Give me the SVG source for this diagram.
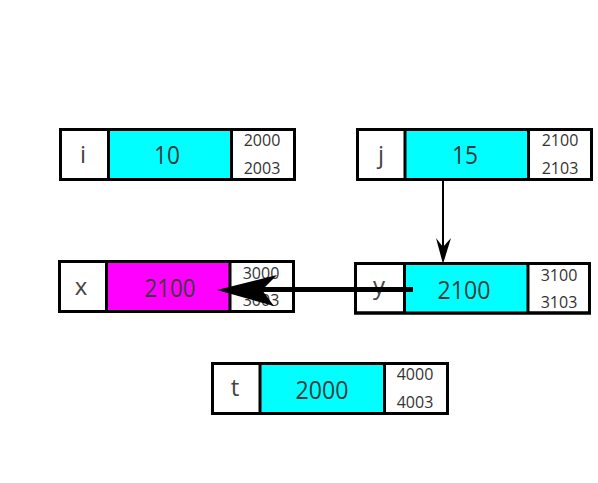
<svg xmlns="http://www.w3.org/2000/svg" width="598" height="483" viewBox="0 0 598 483">
<style>
.box{fill:#fff;stroke:#000;stroke-width:3}
.div{stroke:#000;stroke-width:3}
.cyan{fill:#00ffff}
.mag{fill:#ff00ff}
.lbl{font-family:"Open Sans","Noto Sans",sans-serif;font-size:24px;fill:#444;text-anchor:middle}
.val{font-family:"Open Sans","Noto Sans",sans-serif;font-size:26px;fill:#3a3a3a;text-anchor:middle}
.adr{font-family:"Open Sans","Noto Sans",sans-serif;font-size:16px;fill:#333;text-anchor:middle}
</style>
<rect width="598" height="483" fill="#fff"/>
<g id="node-i">
<rect class="box" x="60.5" y="129.5" width="234" height="50"/>
<rect class="cyan" x="108.5" y="129.5" width="123" height="50"/>
<line class="div" x1="108.5" y1="129.5" x2="108.5" y2="179.5"/>
<line class="div" x1="231.5" y1="129.5" x2="231.5" y2="179.5"/>
<rect x="60.5" y="129.5" width="234" height="50" fill="none" stroke="#000" stroke-width="3"/>
<text class="lbl" x="83" y="163">i</text>
<text class="val" x="167" y="164" textLength="26" lengthAdjust="spacingAndGlyphs">10</text>
<text class="adr" x="262" y="146">2000</text>
<text class="adr" x="262" y="174">2003</text>
</g>
<g id="node-j">
<rect class="box" x="357.5" y="129.5" width="234" height="50"/>
<rect class="cyan" x="405" y="129.5" width="123.5" height="50"/>
<line class="div" x1="405" y1="129.5" x2="405" y2="179.5"/>
<line class="div" x1="528.5" y1="129.5" x2="528.5" y2="179.5"/>
<rect x="357.5" y="129.5" width="234" height="50" fill="none" stroke="#000" stroke-width="3"/>
<text class="lbl" x="381" y="163">j</text>
<text class="val" x="465" y="164" textLength="26" lengthAdjust="spacingAndGlyphs">15</text>
<text class="adr" x="560" y="146">2100</text>
<text class="adr" x="560" y="174">2103</text>
</g>
<g id="node-x">
<rect class="box" x="59.5" y="261.5" width="234" height="50"/>
<rect class="mag" x="106.5" y="261.5" width="123.5" height="50"/>
<line class="div" x1="106.5" y1="261.5" x2="106.5" y2="311.5"/>
<line class="div" x1="230" y1="261.5" x2="230" y2="311.5"/>
<rect x="59.5" y="261.5" width="234" height="50" fill="none" stroke="#000" stroke-width="3"/>
<text class="lbl" x="81" y="295">x</text>
<text class="val" x="170" y="297" textLength="51" lengthAdjust="spacingAndGlyphs">2100</text>
<text class="adr" x="261" y="279">3000</text>
<text class="adr" x="261" y="306">3003</text>
</g>
<g id="node-y">
<rect class="box" x="355.5" y="263.5" width="234" height="49.5"/>
<rect class="cyan" x="404.5" y="263.5" width="123.5" height="49.5"/>
<line class="div" x1="404.5" y1="263.5" x2="404.5" y2="313"/>
<line class="div" x1="528" y1="263.5" x2="528" y2="313"/>
<rect x="355.5" y="263.5" width="234" height="49.5" fill="none" stroke="#000" stroke-width="3"/>
<text class="lbl" x="379" y="294">y</text>
<text class="val" x="464" y="299" textLength="53" lengthAdjust="spacingAndGlyphs">2100</text>
<text class="adr" x="559" y="281">3100</text>
<text class="adr" x="559" y="308">3103</text>
</g>
<g id="node-t">
<rect class="box" x="212.5" y="363.5" width="235" height="50"/>
<rect class="cyan" x="260" y="363.5" width="124.5" height="50"/>
<line class="div" x1="260" y1="363.5" x2="260" y2="413.5"/>
<line class="div" x1="384.5" y1="363.5" x2="384.5" y2="413.5"/>
<rect x="212.5" y="363.5" width="235" height="50" fill="none" stroke="#000" stroke-width="3"/>
<text class="lbl" x="235" y="396">t</text>
<text class="val" x="322" y="399" textLength="53" lengthAdjust="spacingAndGlyphs">2000</text>
<text class="adr" x="415" y="380">4000</text>
<text class="adr" x="415" y="408">4003</text>
</g>
<g id="connectors">
<line x1="443" y1="181" x2="443" y2="250" stroke="#000" stroke-width="2"/>
<polygon points="443,264 436,238 443,247 451,238" fill="#000"/>
<line x1="413" y1="289.5" x2="262" y2="289.5" stroke="#000" stroke-width="5"/>
<polygon points="217,290 277,275 262,290 274,306" fill="#000"/>
</g>
</svg>
